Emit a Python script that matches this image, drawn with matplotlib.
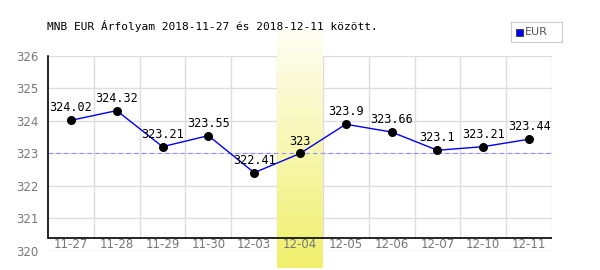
import numpy as np
import matplotlib.pyplot as plt
from matplotlib.colors import LinearSegmentedColormap

# data
dates = ['11-27', '11-28', '11-29', '11-30', '12-03', '12-04',
         '12-05', '12-06', '12-07', '12-10', '12-11']
values = [324.02, 324.32, 323.21, 323.55, 322.41, 323.0,
          323.9, 323.66, 323.1, 323.21, 323.44]
value_labels = ['324.02', '324.32', '323.21', '323.55', '322.41', '323',
                '323.9', '323.66', '323.1', '323.21', '323.44']
yticks = [320, 321, 322, 323, 324, 325, 326]
highlight_idx = 5
ref_level = 323
title = 'MNB EUR Árfolyam 2018-11-27 és 2018-12-11 között.'

fig = plt.figure(figsize=(6, 2.7), dpi=100)
ax = fig.add_axes([48 / 600, 1 - 251 / 270, 504 / 600, 195 / 270])
n = len(dates)
x = np.arange(n)
ax.set_xlim(-0.5, n - 0.5)
ax.set_ylim(320, 326)
for s in ax.spines.values():
    s.set_visible(False)
ax.spines['left'].set_visible(True)
ax.spines['left'].set_bounds(320.4, 326)
ax.spines['left'].set_linewidth(1.2)

# grid
for yv in yticks:
    ax.axhline(yv, color='#dddddd', lw=1, zorder=0)
for b in np.arange(-0.5, n, 1.0)[1:]:
    ax.plot([b, b], [320.4, 326], color='#dddddd', lw=1, zorder=0)
ax.axhline(320.4, color='black', lw=1.2, zorder=3)

# highlighted day
cmap = LinearSegmentedColormap.from_list('hl', ['#fefef4', '#f0f06c'])
grad = np.linspace(0, 1, 100).reshape(-1, 1)
ax.imshow(grad, cmap=cmap, aspect='auto', origin='upper',
          extent=[highlight_idx - 0.5, highlight_idx + 0.5, 319.48, 326.8],
          zorder=1, clip_on=False)

ax.axhline(ref_level, color='#8f8fff', lw=0.8, ls=(0, (4, 3)), zorder=2)
ax.plot(x, values, color='#0000ee', lw=1, zorder=4)
ax.scatter(x, values, s=30, color='black', zorder=5)
for xi, v, lab in zip(x, values, value_labels):
    ax.text(xi, v + 0.18, lab, ha='center', va='bottom', fontsize=8.5,
            family='DejaVu Sans Mono', zorder=6)

ax.set_yticks(yticks)
ax.set_yticklabels([str(t) for t in yticks])
ax.tick_params(axis='y', length=0, pad=7, labelsize=8.5, labelcolor='#777777')
ax.set_xticks([])
for xi, d in zip(x, dates):
    ax.text(xi, 320.2, d, ha='center', va='center', fontsize=8.5,
            color='#777777', zorder=6)

fig.text(47 / 600, 1 - 26 / 270, title, fontsize=8, family='DejaVu Sans Mono',
         va='center', ha='left')

# legend box
lax = fig.add_axes([511 / 600, 1 - 42 / 270, 51 / 600, 20 / 270])
lax.set_xticks([])
lax.set_yticks([])
for s in lax.spines.values():
    s.set_color('#cccccc')
lax.set_xlim(0, 51)
lax.set_ylim(0, 20)
lax.add_patch(plt.Rectangle((5, 6.5), 7, 7, facecolor='#0000ff', edgecolor='#333333', lw=0.6))
lax.text(14, 10, 'EUR', va='center', ha='left', fontsize=8, color='#555555')

fig.savefig('out.png', dpi=100)
